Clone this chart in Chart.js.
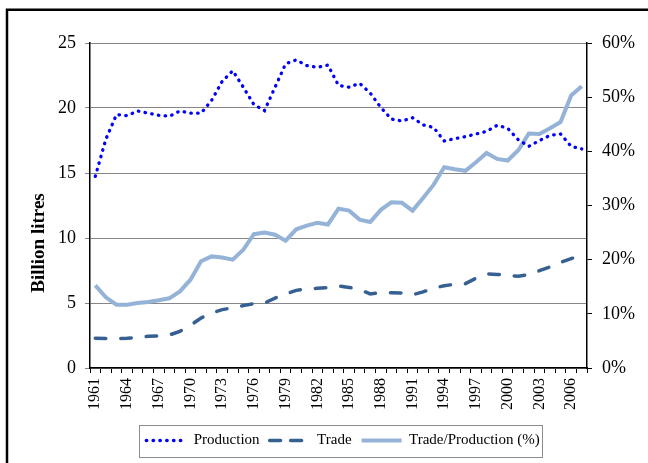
<!DOCTYPE html>
<html>
<head>
<meta charset="utf-8">
<script src="https://cdn.jsdelivr.net/npm/chart.js@4"></script>
<style>
  html, body { margin: 0; padding: 0; background: #fff; }
  #wrap { width: 648px; height: 463px; }
</style>
</head>
<body>
<div id="wrap"><canvas id="chart" width="648" height="463"></canvas></div>
<script>
// years on the x axis
const years = ["1961", "1962", "1963", "1964", "1965", "1966", "1967", "1968", "1969", "1970",
    "1971", "1972", "1973", "1974", "1975", "1976", "1977", "1978", "1979", "1980",
    "1981", "1982", "1983", "1984", "1985", "1986", "1987", "1988", "1989", "1990",
    "1991", "1992", "1993", "1994", "1995", "1996", "1997", "1998", "1999", "2000",
    "2001", "2002", "2003", "2004", "2005", "2006", "2007"];

// billion litres
const production = [14.74, 17.6, 19.49, 19.41, 19.77, 19.6, 19.44, 19.36, 19.77, 19.6,
    19.6, 20.59, 22.05, 22.87, 21.6, 20.26, 19.8, 21.6, 23.4, 23.7,
    23.26, 23.13, 23.3, 21.74, 21.6, 21.9, 21.15, 20.04, 19.15, 19.0,
    19.25, 18.7, 18.5, 17.46, 17.64, 17.8, 18.0, 18.2, 18.67, 18.44,
    17.56, 17.05, 17.5, 17.9, 18.0, 17.05, 16.85];
const trade = [2.28, 2.27, 2.27, 2.28, 2.36, 2.44, 2.46, 2.54, 2.82, 3.28,
    3.85, 4.23, 4.49, 4.62, 4.8, 4.95, 5.0, 5.38, 5.69, 5.97,
    6.08, 6.13, 6.18, 6.31, 6.2, 6.03, 5.7, 5.79, 5.79, 5.77,
    5.64, 5.85, 6.15, 6.33, 6.44, 6.49, 6.9, 7.23, 7.2, 7.13,
    7.05, 7.18, 7.49, 7.77, 8.13, 8.41, 8.69];
// percent, right axis
const tradeShare = [15.26, 13.05, 11.7, 11.7, 12.0, 12.2, 12.5, 12.86, 14.15, 16.3,
    19.7, 20.6, 20.4, 20.0, 21.85, 24.7, 25.0, 24.6, 23.5, 25.6,
    26.3, 26.8, 26.5, 29.4, 29.05, 27.4, 26.95, 29.2, 30.6, 30.5,
    29.05, 31.4, 33.85, 37.05, 36.7, 36.4, 37.97, 39.7, 38.6, 38.3,
    40.2, 43.3, 43.2, 44.25, 45.4, 50.3, 52.0];

// only every third year gets a label
const labelStep = 3;

const serif = "'Liberation Serif', 'Times New Roman', serif";

// outer frame, legend box and the y title
const decorations = {
    id: "decorations",
    beforeDraw(chart) {
        const ctx = chart.ctx;
        ctx.save();
        ctx.fillStyle = "#fff";
        ctx.fillRect(0, 0, chart.width, chart.height);
        ctx.restore();
    },
    afterDraw(chart) {
        const ctx = chart.ctx;
        ctx.save();
        ctx.strokeStyle = "#000";
        ctx.lineWidth = 2.5;
        ctx.strokeRect(7, 9.75, 720, 520);

        const boxes = chart.legend.legendHitBoxes;
        if (boxes.length) {
            const first = boxes[0];
            const last = boxes[boxes.length - 1];
            const left = first.left - 7;
            const right = last.left + last.width + 3;
            const top = first.top + first.height / 2 - 16;
            ctx.strokeStyle = "#8c8c8c";
            ctx.lineWidth = 1;
            ctx.strokeRect(Math.round(left) + 0.5, Math.round(top) + 0.5, Math.round(right - left), 32);
        }

        ctx.translate(39, 243);
        ctx.rotate(-Math.PI / 2);
        ctx.font = "bold 19px " + serif;
        ctx.fillStyle = "#000";
        ctx.textAlign = "center";
        ctx.textBaseline = "middle";
        ctx.fillText("Billion litres", 0, 0);
        ctx.restore();
    }
};

new Chart(document.getElementById("chart"), {
    type: "line",
    data: {
        labels: years,
        datasets: [{
            label: "Production",
            data: production,
            yAxisID: "y",
            borderColor: "#0000ff",
            borderWidth: 3.3,
            borderDash: [0.5, 6.3],
            borderCapStyle: "round",
            pointRadius: 0,
            tension: 0
        }, {
            label: "Trade",
            data: trade,
            yAxisID: "y",
            borderColor: "#376092",
            borderWidth: 3.5,
            borderDash: [10.5, 15],
            borderCapStyle: "round",
            pointRadius: 0,
            tension: 0
        }, {
            label: "Trade/Production (%)",
            data: tradeShare,
            yAxisID: "y2",
            borderColor: "#95b3d7",
            borderWidth: 4,
            pointRadius: 0,
            tension: 0
        }]
    },
    options: {
        responsive: false,
        animation: false,
        layout: { padding: { top: 43, left: 38, right: 0, bottom: 5 } },
        plugins: {
            legend: {
                position: "bottom",
                labels: {
                    usePointStyle: true,
                    pointStyle: "line",
                    pointStyleWidth: 40,
                    padding: 10,
                    color: "#000",
                    font: { family: serif, size: 15 },
                    // keep the dash pattern of each line in its legend sample
                    generateLabels: function (chart) {
                        const items = Chart.defaults.plugins.legend.labels.generateLabels(chart);
                        items.forEach(function (item) {
                            const ds = chart.data.datasets[item.datasetIndex];
                            item.lineDash = item.datasetIndex === 1 ? [11, 10] : (ds.borderDash || []);
                            item.lineCap = ds.borderCapStyle || "butt";
                            item.lineWidth = ds.borderWidth;
                            item.strokeStyle = ds.borderColor;
                        });
                        return items;
                    }
                }
            },
            tooltip: { enabled: false }
        },
        scales: {
            x: {
                offset: true,
                afterFit(scale) { scale.height = 55; },
                grid: {
                    offset: true,
                    drawOnChartArea: false,
                    drawTicks: true,
                    tickLength: 5,
                    color: "#000"
                },
                border: { color: "#000", width: 1.5 },
                ticks: {
                    autoSkip: false,
                    minRotation: 90,
                    maxRotation: 90,
                    padding: 5,
                    color: "#000",
                    font: { family: serif, size: 16 },
                    callback: function (value, index) {
                        return index % labelStep === 0 ? years[index] : "";
                    }
                }
            },
            y: {
                position: "left",
                min: 0,
                max: 25,
                afterFit(scale) { scale.width = 52; },
                grid: { color: "#868686", tickLength: 5, lineWidth: 1 },
                border: { color: "#000", width: 1.5 },
                ticks: {
                    stepSize: 5,
                    padding: 9,
                    color: "#000",
                    font: { family: serif, size: 18 }
                }
            },
            y2: {
                position: "right",
                min: 0,
                max: 60,
                afterFit(scale) { scale.width = 61; },
                grid: { drawOnChartArea: false, color: "#000", tickLength: 5 },
                border: { color: "#000", width: 1.5 },
                ticks: {
                    stepSize: 10,
                    padding: 10,
                    color: "#000",
                    font: { family: serif, size: 18 },
                    callback: function (value) { return value + "%"; }
                }
            }
        }
    },
    plugins: [decorations]
});
</script>
</body>
</html>
